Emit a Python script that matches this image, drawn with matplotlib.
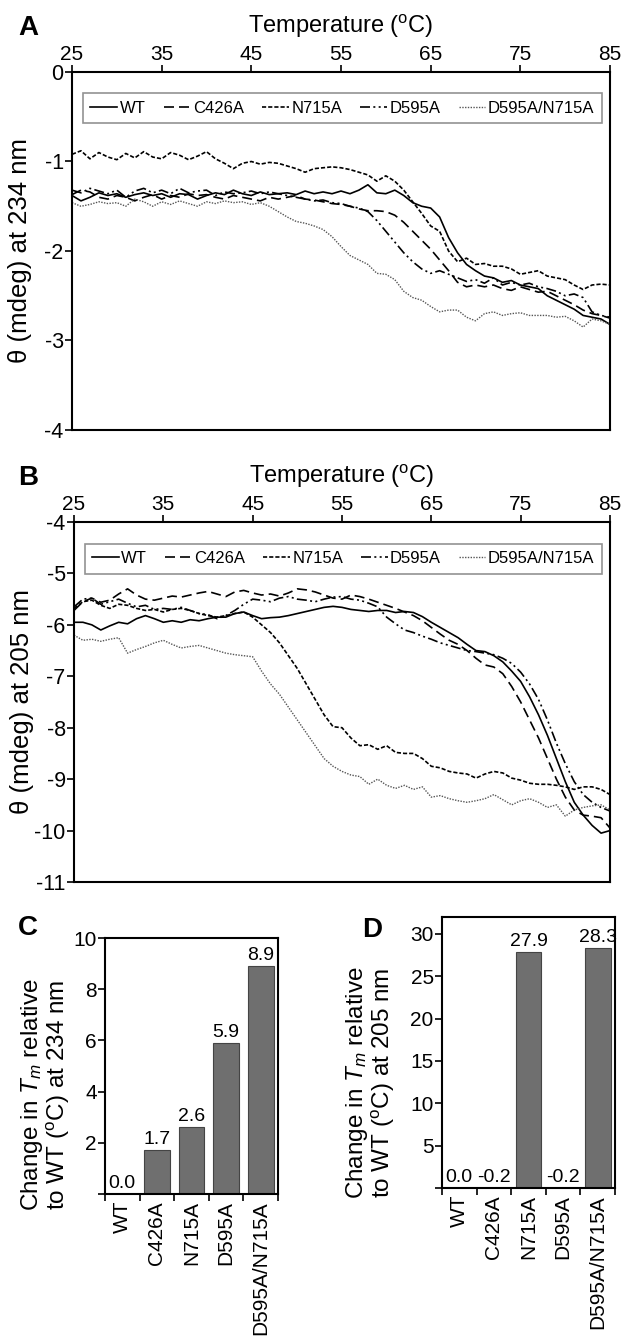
import numpy as np
import matplotlib
matplotlib.use('Agg')
import matplotlib.pyplot as plt
from matplotlib.ticker import FixedLocator, NullFormatter

plt.rcParams['font.family'] = ['Liberation Sans', 'DejaVu Sans']
plt.rcParams['mathtext.fontset'] = 'custom'
plt.rcParams['mathtext.rm'] = 'Liberation Sans'
plt.rcParams['mathtext.it'] = 'Liberation Sans:italic'

temp = np.arange(25, 86)
labels = ['WT', 'C426A', 'N715A', 'D595A', 'D595A/N715A']

# panel A: ellipticity at 234 nm
a_wt = [-1.38, -1.44, -1.40, -1.35, -1.38, -1.36, -1.40, -1.37, -1.35, -1.38,
        -1.36, -1.40, -1.36, -1.37, -1.42, -1.38, -1.35, -1.37, -1.32, -1.36,
        -1.38, -1.34, -1.37, -1.36, -1.35, -1.37, -1.33, -1.36, -1.34, -1.36,
        -1.33, -1.36, -1.32, -1.26, -1.35, -1.36, -1.32, -1.38, -1.46, -1.50,
        -1.52, -1.62, -1.85, -2.02, -2.15, -2.22, -2.28, -2.30, -2.35, -2.33,
        -2.38, -2.40, -2.42, -2.50, -2.55, -2.60, -2.65, -2.72, -2.74, -2.76,
        -2.82]
a_c426a = [-1.37, -1.32, -1.34, -1.40, -1.42, -1.38, -1.40, -1.44, -1.40, -1.37,
           -1.42, -1.38, -1.40, -1.36, -1.38, -1.37, -1.40, -1.42, -1.38, -1.40,
           -1.42, -1.44, -1.40, -1.42, -1.40, -1.38, -1.42, -1.43, -1.45, -1.47,
           -1.48, -1.50, -1.53, -1.55, -1.55, -1.56, -1.60, -1.68, -1.78, -1.88,
           -1.98, -2.10, -2.22, -2.35, -2.40, -2.38, -2.40, -2.38, -2.42, -2.44,
           -2.40, -2.43, -2.46, -2.45, -2.50, -2.55, -2.60, -2.66, -2.70, -2.72,
           -2.75]
a_n715a = [-0.92, -0.88, -0.97, -0.90, -0.95, -0.98, -0.91, -0.96, -0.89, -0.95,
           -0.97, -0.90, -0.93, -0.98, -0.94, -0.89, -0.97, -1.02, -1.08, -1.02,
           -1.00, -1.03, -1.01, -1.02, -1.05, -1.08, -1.12, -1.08, -1.07, -1.06,
           -1.07, -1.09, -1.12, -1.15, -1.22, -1.16, -1.22, -1.32, -1.45, -1.58,
           -1.72, -1.78, -2.00, -2.12, -2.08, -2.15, -2.14, -2.17, -2.17, -2.20,
           -2.26, -2.24, -2.22, -2.28, -2.30, -2.32, -2.38, -2.43, -2.38, -2.37,
           -2.38]
a_d595a = [-1.32, -1.35, -1.30, -1.33, -1.36, -1.32, -1.40, -1.33, -1.30, -1.35,
           -1.32, -1.36, -1.30, -1.35, -1.33, -1.32, -1.38, -1.34, -1.36, -1.35,
           -1.33, -1.36, -1.34, -1.36, -1.38, -1.40, -1.42, -1.44, -1.43, -1.46,
           -1.47, -1.50, -1.52, -1.56, -1.66, -1.78, -1.90, -2.02, -2.12, -2.20,
           -2.25, -2.22, -2.26, -2.30, -2.34, -2.32, -2.36, -2.30, -2.38, -2.35,
           -2.38, -2.36, -2.40, -2.42, -2.45, -2.50, -2.48, -2.52, -2.68, -2.72,
           -2.74]
a_double = [-1.46, -1.50, -1.48, -1.45, -1.47, -1.46, -1.50, -1.42, -1.45, -1.50,
            -1.45, -1.48, -1.44, -1.47, -1.50, -1.45, -1.47, -1.44, -1.46, -1.45,
            -1.48, -1.46, -1.50, -1.56, -1.62, -1.67, -1.69, -1.72, -1.76, -1.84,
            -1.95, -2.05, -2.10, -2.15, -2.25, -2.26, -2.32, -2.45, -2.52, -2.55,
            -2.62, -2.68, -2.66, -2.66, -2.74, -2.78, -2.70, -2.68, -2.72, -2.70,
            -2.69, -2.72, -2.72, -2.72, -2.74, -2.73, -2.78, -2.85, -2.76, -2.78,
            -2.82]

# panel B: ellipticity at 205 nm
b_wt = [-5.95, -5.95, -6.00, -6.10, -6.02, -5.95, -5.98, -5.88, -5.82, -5.88,
        -5.95, -5.92, -5.95, -5.90, -5.92, -5.88, -5.85, -5.85, -5.78, -5.75,
        -5.82, -5.88, -5.86, -5.85, -5.82, -5.78, -5.74, -5.70, -5.66, -5.64,
        -5.66, -5.70, -5.72, -5.74, -5.72, -5.72, -5.76, -5.74, -5.76, -5.84,
        -5.95, -6.05, -6.15, -6.25, -6.38, -6.50, -6.52, -6.60, -6.72, -6.90,
        -7.10, -7.40, -7.75, -8.15, -8.60, -9.05, -9.45, -9.70, -9.90, -10.05,
        -10.00]
b_c426a = [-5.72, -5.55, -5.48, -5.56, -5.52, -5.40, -5.30, -5.42, -5.50, -5.52,
           -5.48, -5.44, -5.46, -5.42, -5.38, -5.35, -5.40, -5.45, -5.36, -5.33,
           -5.38, -5.42, -5.40, -5.44, -5.38, -5.30, -5.32, -5.36, -5.42, -5.48,
           -5.50, -5.42, -5.45, -5.50, -5.56, -5.62, -5.68, -5.75, -5.82, -5.92,
           -6.05, -6.18, -6.30, -6.38, -6.50, -6.65, -6.78, -6.82, -6.95, -7.20,
           -7.50, -7.85, -8.20, -8.60, -9.00, -9.35, -9.60, -9.70, -9.72, -9.75,
           -9.95]
b_n715a = [-5.68, -5.55, -5.52, -5.62, -5.68, -5.60, -5.62, -5.68, -5.72, -5.70,
           -5.75, -5.70, -5.68, -5.72, -5.78, -5.82, -5.85, -5.82, -5.78, -5.75,
           -5.85, -6.00, -6.15, -6.35, -6.60, -6.85, -7.15, -7.45, -7.75, -7.98,
           -8.00, -8.20, -8.35, -8.33, -8.42, -8.35, -8.48, -8.50, -8.50, -8.60,
           -8.75, -8.78, -8.85, -8.88, -8.90, -8.98, -8.90, -8.85, -8.88, -8.98,
           -9.02, -9.08, -9.10, -9.10, -9.12, -9.15, -9.20, -9.15, -9.15, -9.20,
           -9.30]
b_d595a = [-5.65, -5.50, -5.48, -5.60, -5.55, -5.50, -5.58, -5.65, -5.62, -5.70,
           -5.68, -5.70, -5.66, -5.72, -5.78, -5.80, -5.88, -5.82, -5.72, -5.60,
           -5.50, -5.52, -5.55, -5.48, -5.45, -5.50, -5.52, -5.55, -5.50, -5.46,
           -5.45, -5.50, -5.52, -5.58, -5.65, -5.85, -5.98, -6.10, -6.15, -6.22,
           -6.28, -6.35, -6.40, -6.45, -6.50, -6.52, -6.55, -6.58, -6.65, -6.75,
           -6.92, -7.15, -7.45, -7.85, -8.30, -8.70, -9.05, -9.30, -9.45, -9.55,
           -9.62]
b_double = [-6.20, -6.30, -6.28, -6.32, -6.28, -6.25, -6.55, -6.48, -6.42, -6.35,
            -6.30, -6.38, -6.45, -6.42, -6.40, -6.45, -6.50, -6.55, -6.58, -6.60,
            -6.62, -6.90, -7.15, -7.35, -7.60, -7.85, -8.10, -8.35, -8.60, -8.75,
            -8.85, -8.92, -8.95, -9.10, -9.00, -9.12, -9.18, -9.12, -9.20, -9.15,
            -9.35, -9.32, -9.38, -9.42, -9.45, -9.42, -9.38, -9.30, -9.40, -9.50,
            -9.42, -9.38, -9.45, -9.55, -9.50, -9.72, -9.60, -9.55, -9.52, -9.50,
            -9.60]

# panels C, D: change in Tm relative to WT
dtm_234 = [0.0, 1.7, 2.6, 5.9, 8.9]
dtm_205 = [0.0, -0.2, 27.9, -0.2, 28.3]

styles = [dict(color='k', lw=1.2, ls='-'),
          dict(color='k', lw=1.2, ls=(0, (6, 3))),
          dict(color='k', lw=1.2, ls=(0, (2.5, 1.2))),
          dict(color='k', lw=1.2, ls=(0, (6, 2, 1.2, 2, 1.2, 2))),
          dict(color='#555555', lw=1.0, ls=(0, (1, 1)))]

W, H = 623, 1340
fig = plt.figure(figsize=(W / 100, H / 100), dpi=100)


def px_rect(l, t, r, b):
    return [l / W, 1 - b / H, (r - l) / W, (b - t) / H]


def curve_panel(rect, series, ylim, yticks, ylabel, letter):
    ax = fig.add_axes(rect)
    for y, lab, st in zip(series, labels, styles):
        ax.plot(temp, y, label=lab, **st)
    ax.set_xlim(25, 85)
    ax.set_ylim(*ylim)
    ax.set_xticks(range(25, 86, 10))
    ax.set_yticks(yticks)
    ax.set_yticklabels([f'{v:g}' for v in yticks])
    ax.xaxis.tick_top()
    ax.xaxis.set_label_position('top')
    ax.tick_params(axis='both', direction='out', length=5, width=1.2,
                   labelsize=15.5)
    ax.tick_params(axis='x', pad=1, labelsize=15)
    ax.tick_params(axis='y', pad=1)
    ax.set_xlabel('Temperature ($^{\\mathrm{o}}$C)', fontsize=17)
    ax.xaxis.set_label_coords(0.5, 1.108)
    ax.set_ylabel(ylabel, fontsize=18.5)
    ax.yaxis.set_label_coords(-0.074, 0.5)
    for s in ax.spines.values():
        s.set_linewidth(1.5)
    leg = ax.legend(loc='upper left', bbox_to_anchor=(0.02, 0.5, 0.965, 0.44),
                    mode='expand', ncol=5, fontsize=12, frameon=True,
                    fancybox=False, handlelength=1.6, handletextpad=0.15,
                    borderpad=0.45, columnspacing=0.6, borderaxespad=0)
    leg.get_frame().set_edgecolor('#777777')
    leg.get_frame().set_linewidth(1.2)
    pos = ax.get_position()
    fig.text(28 / W, pos.y1 + 44 / H, letter, fontsize=20,
             fontweight='bold', ha='center', va='center')
    return ax


curve_panel(px_rect(72, 72, 610, 430),
            [a_wt, a_c426a, a_n715a, a_d595a, a_double],
            (-4, 0), [0, -1, -2, -3, -4], 'θ (mdeg) at 234 nm', 'A')
curve_panel(px_rect(74, 522, 610, 882),
            [b_wt, b_c426a, b_n715a, b_d595a, b_double],
            (-11, -4), list(range(-4, -12, -1)), 'θ (mdeg) at 205 nm', 'B')


def bar_panel(rect, vals, ylim, yticks, nm, letter, lx, ly, labx):
    ax = fig.add_axes(rect)
    x = np.arange(len(vals))
    ax.bar(x, vals, width=0.75, color='#6f6f6f', edgecolor='#444444', lw=0.8)
    for xi, v in zip(x, vals):
        ax.text(xi, max(v, 0) + ylim[1] * 0.008, f'{v:.1f}', ha='center',
                va='bottom', fontsize=14)
    ax.set_xlim(-0.5, len(vals) - 0.5)
    ax.set_ylim(*ylim)
    ax.set_yticks(yticks)
    ax.set_yticklabels([f'{v:g}' if v != 0 else '' for v in yticks])
    ax.set_xticks(x)
    ax.set_xticklabels(labels, rotation=90, fontsize=15)
    ax.xaxis.set_minor_locator(FixedLocator(np.arange(-0.5, len(vals), 1.0)))
    ax.xaxis.set_minor_formatter(NullFormatter())
    ax.tick_params(axis='x', which='major', length=0, pad=5)
    ax.tick_params(axis='x', which='minor', length=5, width=1.2, direction='out')
    ax.tick_params(axis='y', length=5, width=1.2, direction='out', labelsize=15,
                   pad=1)
    for s in ax.spines.values():
        s.set_linewidth(1.5)
    ax.set_ylabel('Change in $T_m$ relative\nto WT ($^{\\mathrm{o}}$C) at ' + nm,
                  fontsize=17.5, linespacing=1.0)
    ax.yaxis.set_label_coords(labx, 0.387)
    fig.text(lx / W, 1 - ly / H, letter, fontsize=20,
             fontweight='bold', ha='center', va='center')
    return ax


bar_panel(px_rect(105, 938, 278, 1194), dtm_234, (0, 10),
          [0, 2, 4, 6, 8, 10], '234 nm', 'C', 28, 928, -0.19)
bar_panel(px_rect(442, 917, 615, 1188), dtm_205, (0, 32),
          [0, 5, 10, 15, 20, 25, 30], '205 nm', 'D', 372, 930, -0.26)

fig.savefig('out.png', dpi=100)
print('wrote out.png')
